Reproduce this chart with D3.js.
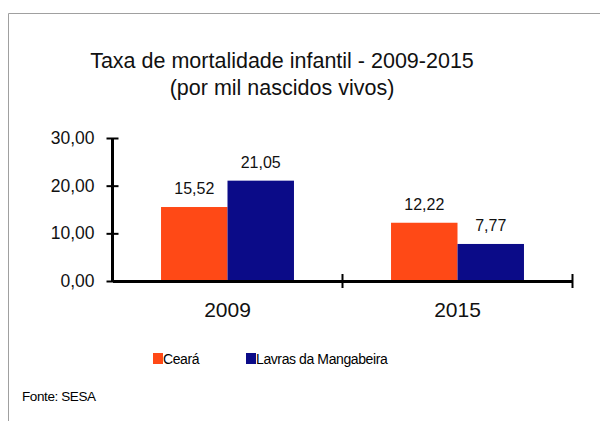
<!DOCTYPE html>
<html>
<head>
<meta charset="utf-8">
<script src="https://cdn.jsdelivr.net/npm/d3@7"></script>
<style>
  body { margin: 0; background: #fff; }
  svg { display: block; font-family: "Liberation Sans", Arial, sans-serif; }
</style>
</head>
<body>
<svg id="chart" width="600" height="421"></svg>
<script>
// chart data
const years = ["2009", "2015"];
const seriesNames = ["Ceará", "Lavras da Mangabeira"];
const cearaValues = [15.52, 12.22];
const lavrasValues = [21.05, 7.77];
const yTicks = [0, 10, 20, 30];
const titleLines = ["Taxa de mortalidade infantil - 2009-2015", "(por mil nascidos vivos)"];
const sourceText = "Fonte: SESA";

const colors = ["#ff4916", "#0b0b88"];

let svg = d3.select("#chart");

// light frame around the chart
svg.append("path")
    .attr("d", "M8.5,430 L8.5,13.5 L610,13.5")
    .attr("fill", "none")
    .attr("stroke", "#a0a0a0")
    .attr("stroke-width", 1);

// title
svg.append("g").selectAll("text")
    .data(titleLines)
    .enter().append("text")
    .attr("x", 282)
    .attr("y", (d, i) => 68 + i * 27)
    .attr("text-anchor", "middle")
    .attr("font-size", 21.5)
    .attr("fill", "#111")
    .text(d => d);

let x0 = d3.scaleBand()
    .domain(years)
    .range([112.5, 572.5])
    .padding(0);

let x1 = d3.scaleBand()
    .domain(seriesNames)
    .range([0, x0.bandwidth()])
    .paddingInner(0)
    .paddingOuter(0.73);

let y = d3.scaleLinear()
    .domain([0, 30])
    .range([281, 138]);

let rows = years.map((yr, i) => ({
    year: yr,
    values: [
        {name: seriesNames[0], value: cearaValues[i], color: colors[0]},
        {name: seriesNames[1], value: lavrasValues[i], color: colors[1]}
    ]
}));

let fmt = v => d3.format(".2f")(v).replace(".", ",");

// bars
let groups = svg.append("g").selectAll("g")
    .data(rows)
    .enter().append("g")
    .attr("transform", d => "translate(" + x0(d.year) + ",0)");

groups.selectAll("rect")
    .data(d => d.values)
    .enter().append("rect")
    .attr("x", d => x1(d.name))
    .attr("y", d => y(d.value))
    .attr("width", x1.bandwidth())
    .attr("height", d => y(0) - y(d.value))
    .attr("fill", d => d.color);

groups.selectAll("text")
    .data(d => d.values)
    .enter().append("text")
    .attr("x", d => x1(d.name) + x1.bandwidth() / 2)
    .attr("y", d => y(d.value) - 13)
    .attr("text-anchor", "middle")
    .attr("font-size", 16)
    .attr("fill", "#111")
    .text(d => fmt(d.value));

// y axis
let yAxis = svg.append("g")
    .attr("transform", "translate(112.5,0)")
    .call(d3.axisLeft(y).tickValues(yTicks).tickSizeOuter(0).tickFormat(fmt));

yAxis.select(".domain").attr("stroke", "#000").attr("stroke-width", 3)
    .attr("d", "M0," + y(30) + "V" + y(0));
yAxis.selectAll(".tick line")
    .attr("x1", -6).attr("x2", 6)
    .attr("stroke", "#000").attr("stroke-width", 2);
yAxis.selectAll(".tick text")
    .attr("x", -18)
    .attr("font-size", 17.5)
    .attr("font-family", "Liberation Sans, Arial, sans-serif")
    .attr("fill", "#111");

// x axis
let xAxis = svg.append("g")
    .attr("transform", "translate(0," + y(0) + ")")
    .call(d3.axisBottom(x0).tickSize(0).tickSizeOuter(0));

xAxis.select(".domain").attr("stroke", "#000").attr("stroke-width", 3);
xAxis.selectAll(".tick text")
    .attr("y", 36)
    .attr("dy", 0)
    .attr("font-size", 21)
    .attr("font-family", "Liberation Sans, Arial, sans-serif")
    .attr("fill", "#111");

// boundary ticks on the x axis
let edges = years.map(d => x0(d) + x0.bandwidth());
xAxis.selectAll(".edge")
    .data(edges)
    .enter().append("line")
    .attr("class", "edge")
    .attr("x1", d => d).attr("x2", d => d)
    .attr("y1", -7).attr("y2", 7)
    .attr("stroke", "#000")
    .attr("stroke-width", 2);

// legend
let legendX = [153, 246];
let legend = svg.append("g").selectAll("g")
    .data(seriesNames)
    .enter().append("g")
    .attr("transform", (d, i) => "translate(" + legendX[i] + ",353)");

legend.append("rect")
    .attr("width", 10)
    .attr("height", 11)
    .attr("fill", (d, i) => colors[i]);

legend.append("text")
    .attr("x", 10)
    .attr("y", 11)
    .attr("font-size", 14)
    .attr("letter-spacing", -0.4)
    .attr("fill", "#000")
    .text(d => d);

// source
svg.append("text")
    .attr("x", 22)
    .attr("y", 401)
    .attr("font-size", 13.5)
    .attr("letter-spacing", -0.4)
    .attr("fill", "#000")
    .text(sourceText);
</script>
</body>
</html>
